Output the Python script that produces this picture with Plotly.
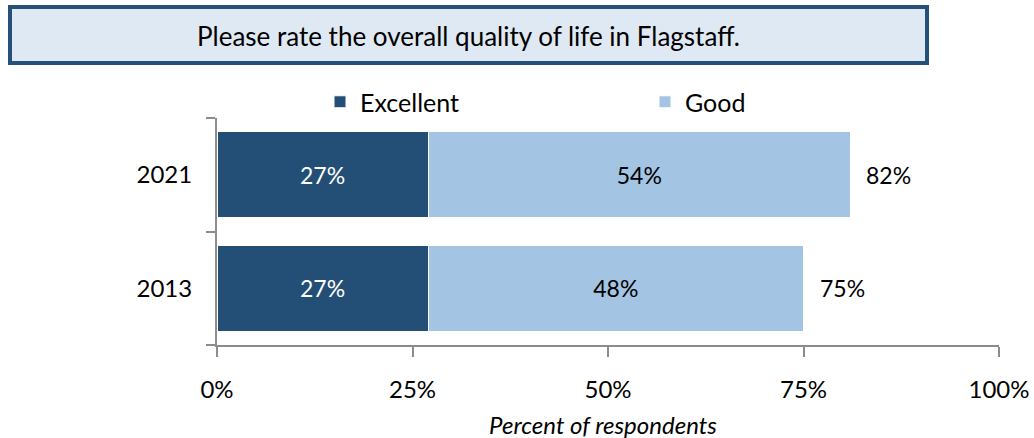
import plotly.graph_objects as go

years = ["2013", "2021"]
excellent = [27, 27]
good = [48, 54]
totals = [75, 82]
tick_vals = [0, 25, 50, 75, 100]
tick_text = ["0%", "25%", "50%", "75%", "100%"]

FONT = "Lato, 'Gill Sans', sans-serif"
DARK = "#234f76"
LIGHT = "#a3c4e2"

fig = go.Figure()
fig.add_trace(go.Bar(
    y=years, x=excellent, orientation="h", name="Excellent",
    marker=dict(color=DARK, line=dict(color="white", width=1)),
    text=[f"{v}%" for v in excellent], textposition="inside", insidetextanchor="middle",
    textfont=dict(color="white", size=23, family=FONT),
))
fig.add_trace(go.Bar(
    y=years, x=good, orientation="h", name="Good",
    marker=dict(color=LIGHT, line=dict(color="white", width=1)),
    text=[f"{v}%" for v in good], textposition="inside", insidetextanchor="middle",
    textfont=dict(color="black", size=23, family=FONT),
))

for i, (e, g, t) in enumerate(zip(excellent, good, totals)):
    fig.add_annotation(x=e + g, y=i, xref="x", yref="y", text=f"{t}%", showarrow=False,
                       xanchor="left", xshift=14, font=dict(size=23, family=FONT, color="black"))

# Title box
fig.add_shape(type="rect", xref="paper", yref="paper",
              x0=(10 - 217) / 782, x1=(927 - 217) / 782,
              y0=(345 - 63) / 227, y1=(345 - 7) / 227,
              line=dict(color="#24507a", width=4), fillcolor="#dfe9f4", layer="below")
fig.add_annotation(xref="paper", yref="paper", x=(468 - 217) / 782, y=(345 - 36) / 227,
                   xanchor="center", yanchor="middle",
                   text="Please rate the overall quality of life in Flagstaff.", showarrow=False,
                   font=dict(size=26, family=FONT, color="black"))
fig.add_annotation(xref="paper", yref="paper", x=(603 - 217) / 782, y=(345 - 424) / 227,
                   xanchor="center", yanchor="middle",
                   text="<i>Percent of respondents</i>", showarrow=False,
                   font=dict(size=24, family=FONT, color="black"))

fig.update_layout(
    width=1034, height=438,
    margin=dict(l=217, r=35, t=118, b=93, autoexpand=False),
    paper_bgcolor="white", plot_bgcolor="white",
    barmode="stack", bargap=0.24,
    font=dict(family=FONT, size=23, color="black"),
    showlegend=True,
    legend=dict(orientation="h", traceorder="normal", x=(320 - 217) / 782, y=(345 - 102) / 227,
                xanchor="left", yanchor="middle", entrywidth=280, entrywidthmode="pixels",
                font=dict(size=25, family=FONT), bgcolor="rgba(0,0,0,0)"),
    xaxis=dict(range=[0, 100], tickvals=tick_vals, ticktext=tick_text,
               showgrid=False, zeroline=False, showline=True, linecolor="#8c8c8c", linewidth=2,
               ticks="outside", ticklen=10, tickcolor="#8c8c8c", tickwidth=2,
               ticklabelstandoff=12, tickfont=dict(size=24, family=FONT)),
    yaxis=dict(type="category", categoryorder="array", categoryarray=years, range=[-0.5, 1.5],
               showgrid=False, zeroline=False, showline=True, linecolor="#8c8c8c", linewidth=2,
               ticks="outside", tickson="boundaries", ticklen=9, tickcolor="#8c8c8c", tickwidth=2,
               ticklabelstandoff=18, tickfont=dict(size=24, family=FONT)),
)

fig.write_html("out.html", post_script="document.body.style.margin='0';",
               config={"displayModeBar": False})
